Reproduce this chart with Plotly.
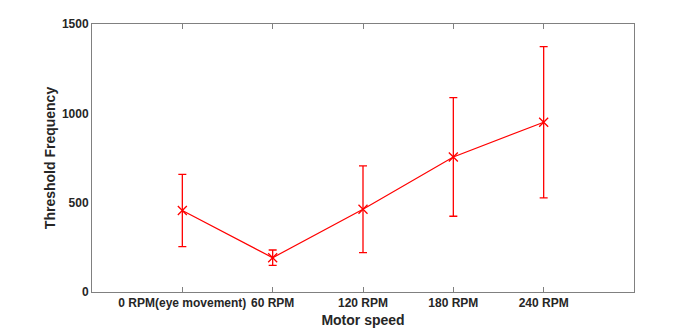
import plotly.graph_objects as go

categories = ["0 RPM(eye movement)", "60 RPM", "120 RPM", "180 RPM", "240 RPM"]
positions = [1, 2, 3, 4, 5]
means = [456, 192, 463, 756, 950]
errors = [202, 43, 243, 332, 423]
y_ticks = [0, 500, 1000, 1500]

fig = go.Figure()
fig.add_trace(go.Scatter(
    x=positions, y=means,
    mode="lines+markers",
    line=dict(color="#ff0000", width=1.2),
    marker=dict(symbol="x-thin-open", size=9, line=dict(color="#ff0000", width=1.3)),
    error_y=dict(type="data", array=errors, visible=True, color="#ff0000", thickness=1.3, width=4),
    showlegend=False,
))

font_family = "Arial, Liberation Sans, sans-serif"
fig.update_layout(
    width=700, height=329,
    margin=dict(l=92, r=66, t=24, b=37),
    paper_bgcolor="white", plot_bgcolor="white",
    font=dict(family=font_family, color="#262626"),
    xaxis=dict(
        range=[0, 6], tickvals=positions, ticktext=[f"<b>{c}</b>" for c in categories],
        tickangle=0, ticks="inside", ticklen=5, tickcolor="#808080",
        showline=True, linecolor="#808080", linewidth=1, mirror="ticks",
        showgrid=False, zeroline=False, automargin=False,
        tickfont=dict(size=12, family=font_family, color="#262626"),
        title=dict(text="<b>Motor speed</b>", font=dict(size=14, family=font_family, color="#262626"), standoff=5),
    ),
    yaxis=dict(
        range=[0, 1500], tickvals=y_ticks, ticktext=[f"<b>{v}</b>" for v in y_ticks],
        ticks="", showline=True, linecolor="#808080", linewidth=1, mirror=True,
        showgrid=False, zeroline=False, automargin=False,
        tickfont=dict(size=12, family=font_family, color="#262626"),
        title=dict(text="<b>Threshold Frequency</b>", font=dict(size=14, family=font_family, color="#262626"), standoff=2),
    ),
)

fig.write_html("out.html")
